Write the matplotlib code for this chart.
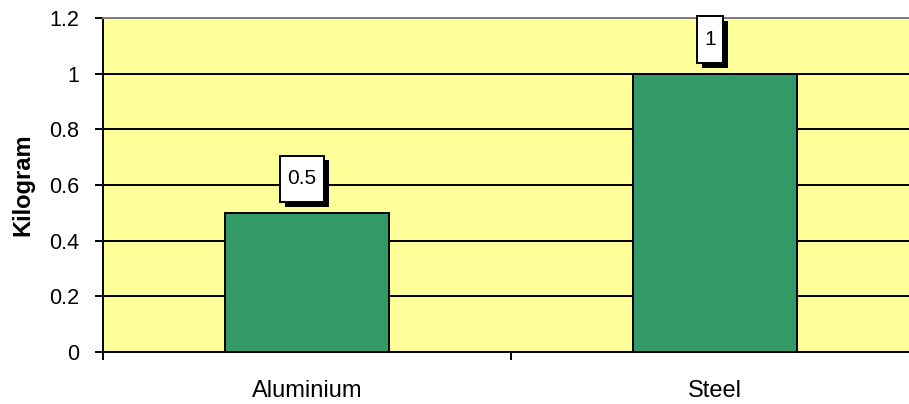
import matplotlib
matplotlib.use("Agg")
import matplotlib.pyplot as plt
from matplotlib.path import Path
from matplotlib.patheffects import SimplePatchShadow, Normal

plt.rcParams['font.family'] = ['Liberation Sans', 'DejaVu Sans']

materials = ["Aluminium", "Steel"]
mass_kg = [0.5, 1.0]
value_labels = ["0.5", "1"]
y_ticks = [0, 0.2, 0.4, 0.6, 0.8, 1.0, 1.2]
y_tick_labels = ["0", "0.2", "0.4", "0.6", "0.8", "1", "1.2"]

W, H = 909, 404
fig = plt.figure(figsize=(W / 100, H / 100), dpi=100)
ax = fig.add_axes([103 / W, 1 - 352 / H, 816 / W, 334 / H])
ax.set_facecolor("#FFFF99")

x = list(range(len(materials)))
ax.bar(x, mass_kg, width=0.4, color="#339966", edgecolor="black",
       linewidth=1.4, zorder=3)

ax.set_xlim(-0.5, len(materials) - 0.5)
ax.set_ylim(0, 1.2)
ax.set_yticks(y_ticks)
ax.set_yticklabels(y_tick_labels)
ax.yaxis.grid(True, color="black", linewidth=1.4, zorder=1)
ax.set_axisbelow(True)

# category boundaries carry the ticks, names sit between them
ax.set_xticks([i - 0.5 for i in range(len(materials) + 1)])
ax.set_xticklabels([])
ax.set_xticks(x, minor=True)
ax.set_xticklabels(materials, minor=True)
ax.tick_params(axis="x", which="minor", length=0, pad=20, labelsize=17)
ax.tick_params(axis="x", which="major", length=6, width=1.4, direction="out")
ax.tick_params(axis="y", length=6, width=1.4, direction="out", pad=11, labelsize=15.5)

for side in ("left", "bottom"):
    ax.spines[side].set_linewidth(1.4)
    ax.spines[side].set_color("black")
ax.spines["top"].set_color("#808080")
ax.spines["top"].set_linewidth(1.4)
ax.spines["right"].set_visible(False)

ax.set_ylabel("Kilogram", fontsize=17, fontweight="bold", labelpad=11)


def label_box(x0, y0, width, height, mutation_size):
    # taller padding than wide, like a spreadsheet data label
    px = 0.34 * mutation_size
    py = 0.66 * mutation_size
    x0 -= px
    x1 = x0 + width + 2 * px
    y0 -= py
    y1 = y0 + height + 2 * py
    return Path([(x0, y0), (x1, y0), (x1, y1), (x0, y1), (x0, y0)], closed=True)


for xi, v, lab in zip(x, mass_kg, value_labels):
    t = ax.annotate(lab, xy=(xi, v), xytext=(-3.5, 24.5), textcoords="offset points",
                    ha="center", va="center", fontsize=15, zorder=5,
                    bbox=dict(boxstyle=label_box, facecolor="white",
                              edgecolor="black", linewidth=1.4))
    t.get_bbox_patch().set_path_effects([
        SimplePatchShadow(offset=(3.5, -3.5), shadow_rgbFace="black", alpha=1.0),
        Normal(),
    ])

fig.savefig("out.png", dpi=100)
